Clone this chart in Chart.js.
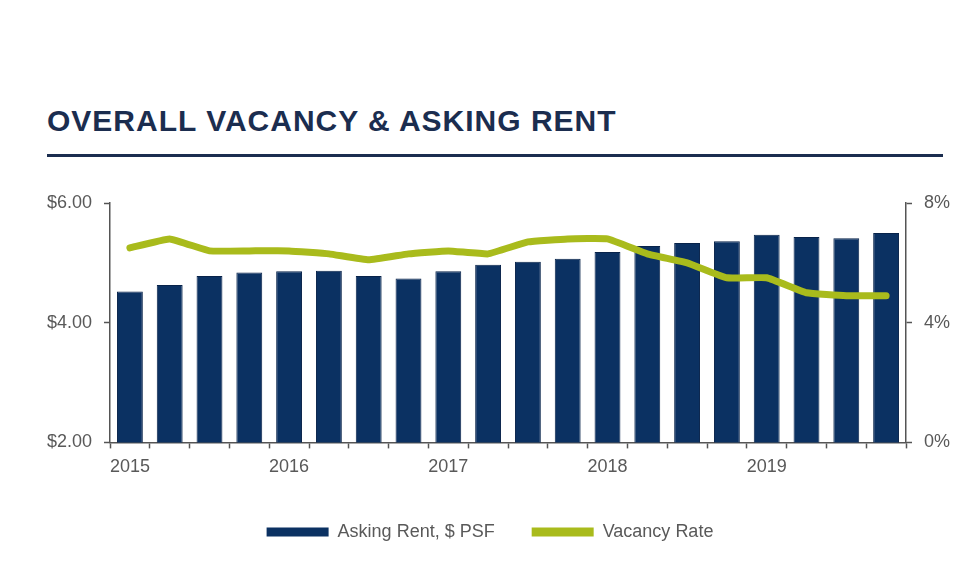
<!DOCTYPE html>
<html>
<head>
<meta charset="utf-8">
<script src="https://cdn.jsdelivr.net/npm/chart.js@4/dist/chart.umd.min.js"></script>
<style>
  html, body { margin: 0; padding: 0; background: #fff; }
  #wrap { position: relative; width: 960px; height: 587px; overflow: hidden; }
  #title {
    position: absolute; left: 47px; top: 104px;
    font: bold 30px "Liberation Sans", Arial, sans-serif;
    letter-spacing: 1px; color: #1b2d4f; white-space: nowrap;
  }
  #rule { position: absolute; left: 47px; top: 154px; width: 896px; height: 3px; background: #1b2d4f; }
  #chart { position: absolute; left: 0; top: 0; }
</style>
</head>
<body>
<div id="wrap">
  <div id="title">OVERALL VACANCY &amp; ASKING RENT</div>
  <div id="rule"></div>
  <canvas id="chart" width="960" height="587"></canvas>
</div>
<script>
// Quarterly, 1Q 2015 – 4Q 2019
const quarters = [
  '1Q15', '2Q15', '3Q15', '4Q15',
  '1Q16', '2Q16', '3Q16', '4Q16',
  '1Q17', '2Q17', '3Q17', '4Q17',
  '1Q18', '2Q18', '3Q18', '4Q18',
  '1Q19', '2Q19', '3Q19', '4Q19'
];
// x tick labels (year shown on first quarter only)
const yearLabels = [
  '2015', '', '', '',
  '2016', '', '', '',
  '2017', '', '', '',
  '2018', '', '', '',
  '2019', '', '', ''
];
const askingRent = [
  4.52, 4.63, 4.78, 4.84, 4.86, 4.87, 4.78, 4.74, 4.86, 4.97,
  5.02, 5.07, 5.18, 5.28, 5.33, 5.36, 5.47, 5.43, 5.41, 5.50
];
const vacancyRate = [
  6.5, 6.8, 6.4, 6.4, 6.4, 6.3, 6.1, 6.3, 6.4, 6.3,
  6.7, 6.8, 6.8, 6.3, 6.0, 5.5, 5.5, 5.0, 4.9, 4.9
];
const rentTicks = [2, 4, 6];
const vacancyTicks = [0, 4, 8];

const NAVY = '#0b3162';
const GREEN = '#a9bb1c';
const AXIS = '#555555';
const TEXT = '#595959';
const FONT = '"Liberation Sans", Arial, sans-serif';

const ctx = document.getElementById('chart').getContext('2d');
new Chart(ctx, {
  type: 'bar',
  data: {
    labels: quarters,
    datasets: [
      {
        type: 'line',
        label: 'Vacancy Rate',
        data: vacancyRate,
        yAxisID: 'yVac',
        borderColor: GREEN,
        backgroundColor: GREEN,
        borderWidth: 7,
        borderCapStyle: 'round',
        borderJoinStyle: 'round',
        pointRadius: 0,
        tension: 0.1,
        order: 0
      },
      {
        label: 'Asking Rent, $ PSF',
        data: askingRent,
        yAxisID: 'yRent',
        backgroundColor: NAVY,
        borderColor: '#08234a',
        borderWidth: 1,
        barPercentage: 0.65,
        categoryPercentage: 1,
        order: 1
      }
    ]
  },
  options: {
    responsive: false,
    animation: false,
    devicePixelRatio: 1,
    layout: { padding: { left: 20, right: 0, top: 203, bottom: 36 } },
    plugins: {
      title: { display: false },
      tooltip: { enabled: false },
      legend: {
        position: 'bottom',
        reverse: true,
        labels: {
          font: { family: FONT, size: 18 },
          color: TEXT,
          boxWidth: 62,
          boxHeight: 9,
          padding: 37,
          generateLabels: (chart) => chart.data.datasets.map((ds, i) => ({
            text: ds.label,
            fillStyle: ds.type === 'line' ? GREEN : NAVY,
            strokeStyle: ds.type === 'line' ? GREEN : NAVY,
            fontColor: TEXT,
            lineWidth: 0,
            datasetIndex: i,
            hidden: false
          }))
        }
      }
    },
    scales: {
      x: {
        offset: true,
        grid: {
          offset: true,
          display: true,
          drawOnChartArea: false,
          drawTicks: true,
          tickLength: 6,
          color: AXIS,
          tickWidth: 1.5
        },
        border: { display: true, color: AXIS, width: 1.5 },
        ticks: {
          autoSkip: false,
          maxRotation: 0,
          padding: 8,
          color: TEXT,
          font: { family: FONT, size: 18 },
          callback: (v, i) => yearLabels[i]
        }
      },
      yRent: {
        position: 'left',
        min: 2,
        max: 6,
        afterBuildTicks: (axis) => { axis.ticks = rentTicks.map(v => ({ value: v })); },
        afterFit: (axis) => { axis.width = 90; },
        grid: {
          drawOnChartArea: false,
          tickLength: 6,
          color: AXIS,
          tickWidth: 1.5
        },
        border: { display: true, color: AXIS, width: 1.5 },
        ticks: {
          padding: 12,
          color: TEXT,
          font: { family: FONT, size: 18 },
          callback: (v) => '$' + v.toFixed(2)
        }
      },
      yVac: {
        position: 'right',
        min: 0,
        max: 8,
        afterBuildTicks: (axis) => { axis.ticks = vacancyTicks.map(v => ({ value: v })); },
        afterFit: (axis) => { axis.width = 54; },
        grid: {
          drawOnChartArea: false,
          tickLength: 6,
          color: AXIS,
          tickWidth: 1.5
        },
        border: { display: true, color: AXIS, width: 1.5 },
        ticks: {
          padding: 12,
          color: TEXT,
          font: { family: FONT, size: 18 },
          callback: (v) => v + '%'
        }
      }
    }
  }
});
</script>
</body>
</html>
